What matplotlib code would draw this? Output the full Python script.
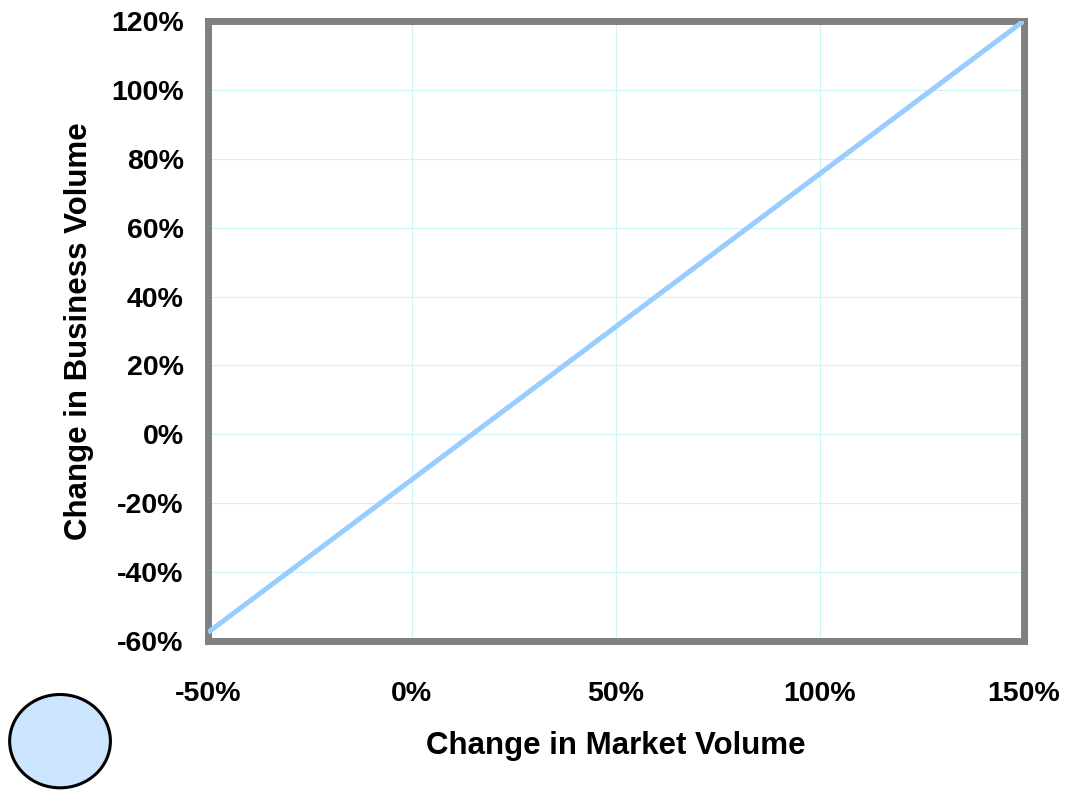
import matplotlib
matplotlib.use('Agg')
import matplotlib.pyplot as plt
from matplotlib.patches import Ellipse
from matplotlib.ticker import FuncFormatter

market_change = [-50, 150]
business_change = [-57.5, 120]
x_ticks = [-50, 0, 50, 100, 150]
y_ticks = [-60, -40, -20, 0, 20, 40, 60, 80, 100, 120]

plt.rcParams['font.family'] = ['Liberation Sans', 'DejaVu Sans']
plt.rcParams['font.weight'] = 'bold'

fig = plt.figure(figsize=(10.72, 7.91), dpi=100)
ax = fig.add_axes([0.194, 0.1896, 0.761, 0.784])

ax.plot(market_change, business_change, color='#99ccff', lw=3.6, solid_capstyle='butt', zorder=3)

ax.set_xlim(-50, 150)
ax.set_ylim(-60, 120)
ax.set_xticks(x_ticks)
ax.set_yticks(y_ticks)
pct = FuncFormatter(lambda v, p: f'{v:.0f}%')
ax.xaxis.set_major_formatter(pct)
ax.yaxis.set_major_formatter(pct)
ax.tick_params(length=0, labelsize=20.5, pad=17.5)
ax.tick_params(axis='x', pad=28.5)
ax.grid(True, color='#ccf5f5', lw=0.8)

for s in ax.spines.values():
    s.set_color('#808080')
    s.set_linewidth(5)

ax.set_xlabel('Change in Market Volume', fontsize=22.5, fontweight='bold', labelpad=17.5)
ax.set_ylabel('Change in Business Volume', fontsize=22.5, fontweight='bold', labelpad=12)

fig.patches.append(Ellipse((0.056, 0.063), 0.094, 0.118, transform=fig.transFigure,
                           facecolor='#cce5ff', edgecolor='black', lw=2.2))

fig.savefig('out.png', dpi=100)
